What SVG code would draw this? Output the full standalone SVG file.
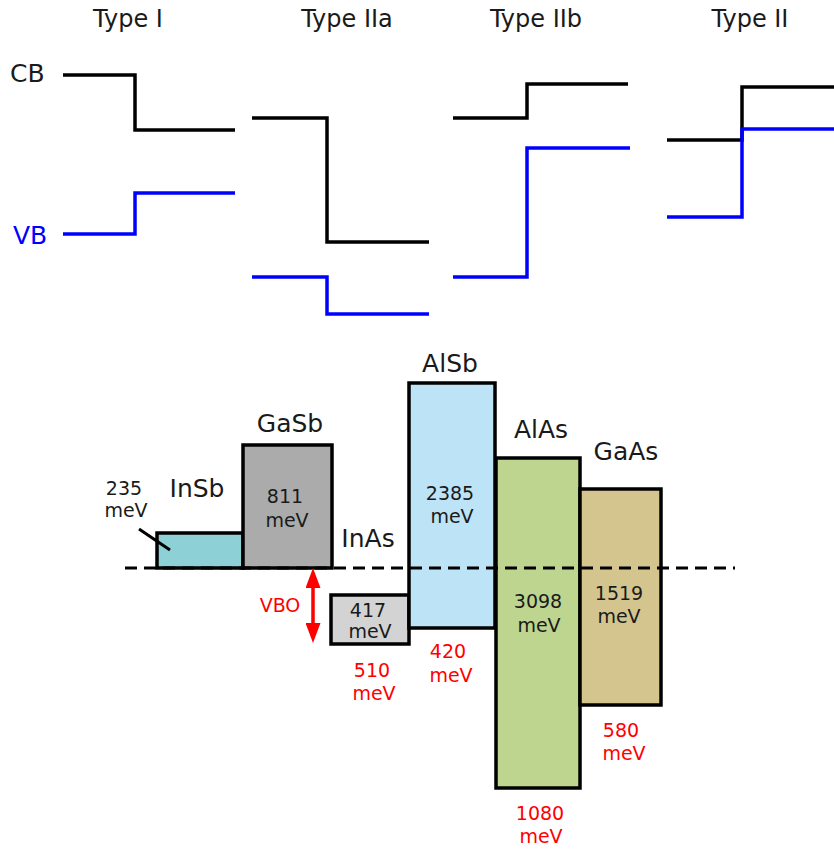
<svg xmlns="http://www.w3.org/2000/svg" width="834" height="849" viewBox="0 0 834 849">
<style>
text{font-family:"DejaVu Sans",Verdana,sans-serif;fill:#1a1a1a}
.t{font-size:24px;text-anchor:middle}
.lab{font-size:25px;text-anchor:middle}
.v{font-size:19px;text-anchor:middle}
.r{fill:#ff0000}
.cb{fill:none;stroke:#000;stroke-width:3.5}
.vb{fill:none;stroke:#0000ff;stroke-width:3.5}
.box{stroke:#000;stroke-width:3.5}
</style>
<defs>
<marker id="ah" viewBox="0 0 20 15" refX="0" refY="7.5" markerWidth="20" markerHeight="15" markerUnits="userSpaceOnUse" orient="auto-start-reverse"><path d="M0,0 L20,7.5 L0,15 Z" fill="#ff0000"/></marker>
</defs>
<rect width="834" height="849" fill="#fff"/>
<g id="types">
<text class="t" x="128" y="27">Type I</text>
<text class="t" x="347" y="27">Type IIa</text>
<text class="t" x="536" y="27">Type IIb</text>
<text class="t" x="750" y="27">Type II</text>
<text x="10" y="82" style="font-size:25px">CB</text>
<text x="13" y="244" style="font-size:25px;fill:#0000ff">VB</text>
</g>
<g id="bands">
<path class="cb" d="M63,75 H135 V130 H235"/>
<path class="vb" d="M63,234 H135 V193 H235"/>
<path class="cb" d="M252,118 H327 V242 H429"/>
<path class="vb" d="M252,277 H327 V314 H429"/>
<path class="cb" d="M453,118 H527 V84 H628"/>
<path class="vb" d="M453,277 H527 V148 H630"/>
<path class="cb" d="M667,140 H742 V87 H834"/>
<path class="vb" d="M667,217 H742 V129 H834"/>
</g>
<g id="InSb"><rect class="box" x="157" y="533" width="86" height="35" fill="#8dd0d6"/><text class="lab" x="197" y="497">InSb</text><text class="v" x="124" y="495">235</text><text class="v" x="126" y="517">meV</text></g>
<g id="GaSb"><rect class="box" x="243" y="445" width="89" height="123" fill="#ababab"/><text class="lab" x="290" y="432">GaSb</text><text class="v" x="285" y="503">811</text><text class="v" x="287" y="527">meV</text></g>
<g id="InAs"><rect class="box" x="331" y="595" width="78" height="49" fill="#d3d3d3"/><text class="lab" x="368" y="547">InAs</text><text class="v" x="368" y="617">417</text><text class="v" x="370" y="638">meV</text></g>
<g id="AlSb"><rect class="box" x="409" y="383" width="86" height="245" fill="#bde3f6"/><text class="lab" x="450" y="372">AlSb</text><text class="v" x="450" y="500">2385</text><text class="v" x="452" y="523">meV</text></g>
<g id="AlAs"><rect class="box" x="496" y="458" width="84" height="330" fill="#bdd58f"/><text class="lab" x="541" y="438">AlAs</text><text class="v" x="538" y="608">3098</text><text class="v" x="539" y="632">meV</text></g>
<g id="GaAs"><rect class="box" x="580" y="489" width="81" height="216" fill="#d4c58f"/><text class="lab" x="626" y="460">GaAs</text><text class="v" x="619" y="600">1519</text><text class="v" x="619" y="623">meV</text></g>
<g id="offsets">
<text class="v r" x="280" y="612">VBO</text>
<text class="v r" x="372" y="677">510</text><text class="v r" x="374" y="700">meV</text>
<text class="v r" x="448" y="658">420</text><text class="v r" x="451" y="682">meV</text>
<text class="v r" x="621" y="737">580</text><text class="v r" x="624" y="760">meV</text>
<text class="v r" x="540" y="820">1080</text><text class="v r" x="541" y="843">meV</text>
</g>
<g id="connectors">
<line x1="125" y1="568" x2="735" y2="568" stroke="#000" stroke-width="3" stroke-dasharray="12,7"/>
<line x1="139" y1="529" x2="170" y2="550" stroke="#000" stroke-width="3"/>
<line x1="313" y1="588" x2="313" y2="623" stroke="#ff0000" stroke-width="3.5" marker-start="url(#ah)" marker-end="url(#ah)"/>
</g>
</svg>
